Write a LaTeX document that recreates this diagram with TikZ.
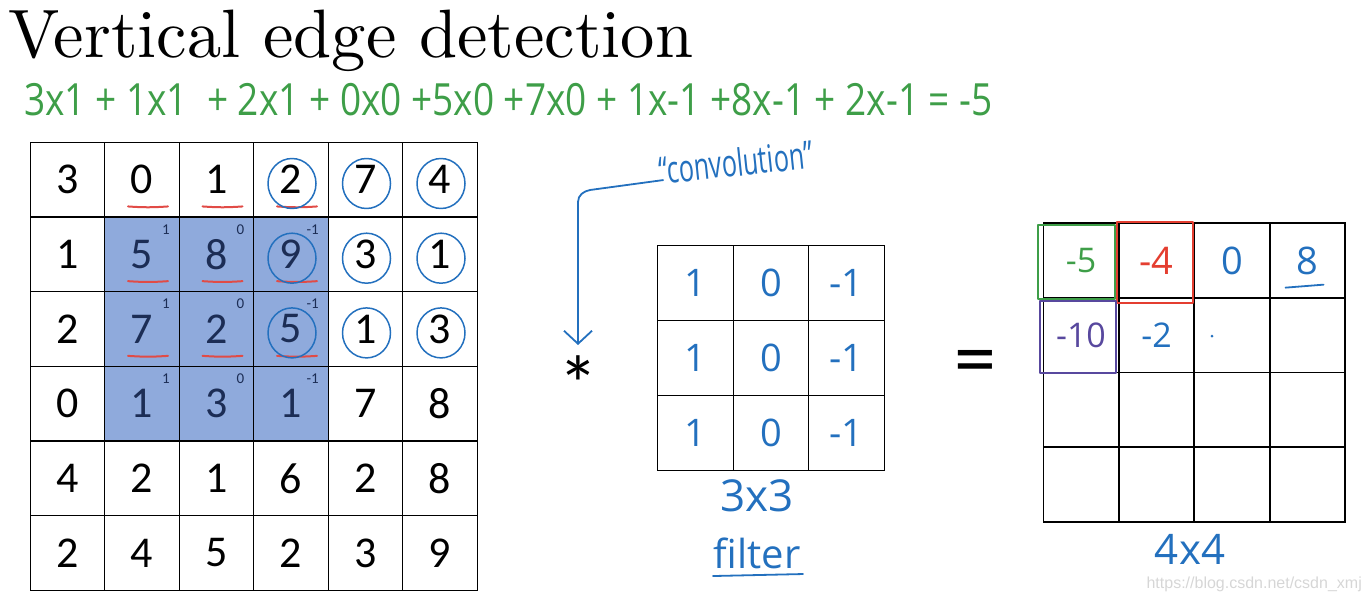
\documentclass[tikz,border=0pt]{standalone}
\usepackage{fontspec}
\usetikzlibrary{arrows.meta}
\newfontfamily\numfont{Carlito}
\newfontfamily\handfont{Open Sans}
\newfontfamily\markfont{Liberation Sans}
\newfontfamily\titlefont{lmroman10-regular.otf}
\definecolor{penblue}{RGB}{35,112,190}
\definecolor{pengreen}{RGB}{62,158,72}
\definecolor{penred}{RGB}{228,62,48}
\definecolor{penpurple}{RGB}{88,72,158}
\definecolor{winfill}{RGB}{143,170,220}
\definecolor{winink}{RGB}{28,45,85}
\definecolor{underred}{RGB}{225,75,70}

\tikzset{
  cell/.style={draw, line width=1.3pt, minimum size=74.6pt, inner sep=0pt,
    font=\fontsize{44}{44}\numfont},
  fcell/.style={draw, line width=1.3pt, minimum size=75.5pt, inner sep=0pt,
    text=penblue, font=\fontsize{38}{38}\handfont},
  wsup/.style={anchor=east, inner sep=0pt, font=\fontsize{15}{15}\numfont},
  pen/.style={line width=1.8pt, line cap=round, line join=round},
  redline/.style={pen, underred, line width=2pt},
  bluering/.style={pen, penblue, line width=1.5pt},
  hand/.style={text=penblue, font=\fontsize{#1}{#1}\handfont},
  hand/.default=34,
}

\begin{document}
\begin{tikzpicture}[x=1pt, y=-1pt]
\useasboundingbox (0,0) rectangle (1371,602);

% title
\node[anchor=base west, inner sep=0pt, font=\fontsize{68.5}{68.5}\titlefont]
  (title) at (8,58) {Vertical edge detection};

% worked sum for the first output cell
\node[anchor=west, inner sep=0pt, text=pengreen, font=\fontsize{37}{37}\handfont]
  (sum) at (24,100) {\scalebox{1}[1.2]{3x1 + 1x1 \ + 2x1 + 0x0 +5x0 +7x0 + 1x-1 +8x-1 + 2x-1 = -5}};

% window behind the numbers
\fill[winfill] (104.5,217) rectangle (328,441);

% 6x6 image
\foreach \row [count=\r from 0] in {{3,0,1,2,7,4},{1,5,8,9,3,1},{2,7,2,5,1,3},
                                    {0,1,3,1,7,8},{4,2,1,6,2,8},{2,4,5,2,3,9}}
  \foreach \v [count=\c from 0] in \row {
    \def\ink{black}
    \ifnum\r>0 \ifnum\r<4 \ifnum\c>0 \ifnum\c<4 \def\ink{winink}\fi\fi\fi\fi
    \node[cell, text=\ink] (in-\r-\c) at ({67.5+74.5*\c},{179.5+74.7*\r}) {\v};
  }

% filter weights in the corners
\foreach \w [count=\c from 1] in {1,0,-1}
  \foreach \r in {1,2,3}
    \node[wsup, text=winink] (w-\r-\c) at ([xshift=-10pt,yshift=-13pt]in-\r-\c.north east) {\w};

% underlines and rings
\foreach \r in {0,1,2}
  \foreach \c in {1,2,3}
    \draw[redline] ([xshift=-14pt,yshift=11pt]in-\r-\c.south) to[bend right=4] ++(40,0);
\foreach \r in {0,1,2}
  \foreach \c in {3,4,5}
    \draw[bluering] ([xshift=1pt,yshift=-4pt]in-\r-\c.center) ellipse (24pt and 25pt);

% convolution operator
\node[inner sep=0pt, font=\fontsize{80}{80}\numfont] (star) at (578,384) {*};
\node[inner sep=0pt, rotate=6, hand=28] (conv) at (736,162)
  {\scalebox{0.9}[1.35]{“convolution”}};
\draw[pen, penblue, -{Straight Barb[length=13pt, width=28pt]}]
  ([xshift=4pt,yshift=-10pt]conv.west) -- (590,190) to[out=190, in=90] (578,202)
  -- (578,345);

% 3x3 filter
\foreach \row [count=\r from 0] in {{1,0,-1},{1,0,-1},{1,0,-1}}
  \foreach \v [count=\c from 0] in \row
    \node[fcell] (flt-\r-\c) at ({695.5+75.5*\c},{283+75*\r}) {\v};
\node[hand=44] (fsize) at (757,496) {3x3};
\node[hand=40] (fname) at (757,553) {filter};
\draw[pen, penblue] ([xshift=-44pt,yshift=-4pt]fname.south) -- ([xshift=46pt,yshift=-2pt]fname.south);

\node[inner sep=0pt, font=\fontsize{84}{84}\numfont] (eq) at (975,368) {=};

% 4x4 output
\foreach \r in {0,...,3}
  \foreach \c in {0,...,3}
    \node[fcell, minimum size=75pt] (out-\r-\c) at ({1081+75.5*\c},{260.5+74.7*\r}) {};
\node[hand, text=pengreen] (v-0-0) at (out-0-0) {-5};
\node[hand=38, text=penred] (v-0-1) at (out-0-1) {-4};
\node[hand=38] (v-0-2) at (out-0-2) {0};
\node[hand=38] (v-0-3) at (out-0-3) {8};
\node[hand, text=penpurple] (v-1-0) at (out-1-0) {-10};
\node[hand] (v-1-1) at (out-1-1) {-2};
\fill[penblue] ([xshift=-20pt,yshift=-1pt]out-1-2.center) circle (1.5pt);
\draw[pen, penblue] ([xshift=-22pt,yshift=11pt]out-0-3.south) -- ++(38,-3);
\draw[pen, pengreen] ([xshift=-5pt,yshift=-3pt]out-0-0.north west) rectangle ([xshift=-4pt]out-0-0.south east);
\draw[pen, penred] ([xshift=-1pt]out-0-1.north west) rectangle ([xshift=-2pt,yshift=-4pt]out-0-1.south east);
\draw[pen, penpurple] ([xshift=-3pt,yshift=-4pt]out-1-0.north west) rectangle ([xshift=-3pt]out-1-0.south east);
\node[hand=42] (osize) at (1190,549) {4x4};

% watermark
\node[anchor=base east, inner sep=0pt, text=black!16, font=\fontsize{16}{16}\markfont]
  (mark) at (1362,588) {https://blog.csdn.net/csdn\_xmj};
\end{tikzpicture}
\end{document}
